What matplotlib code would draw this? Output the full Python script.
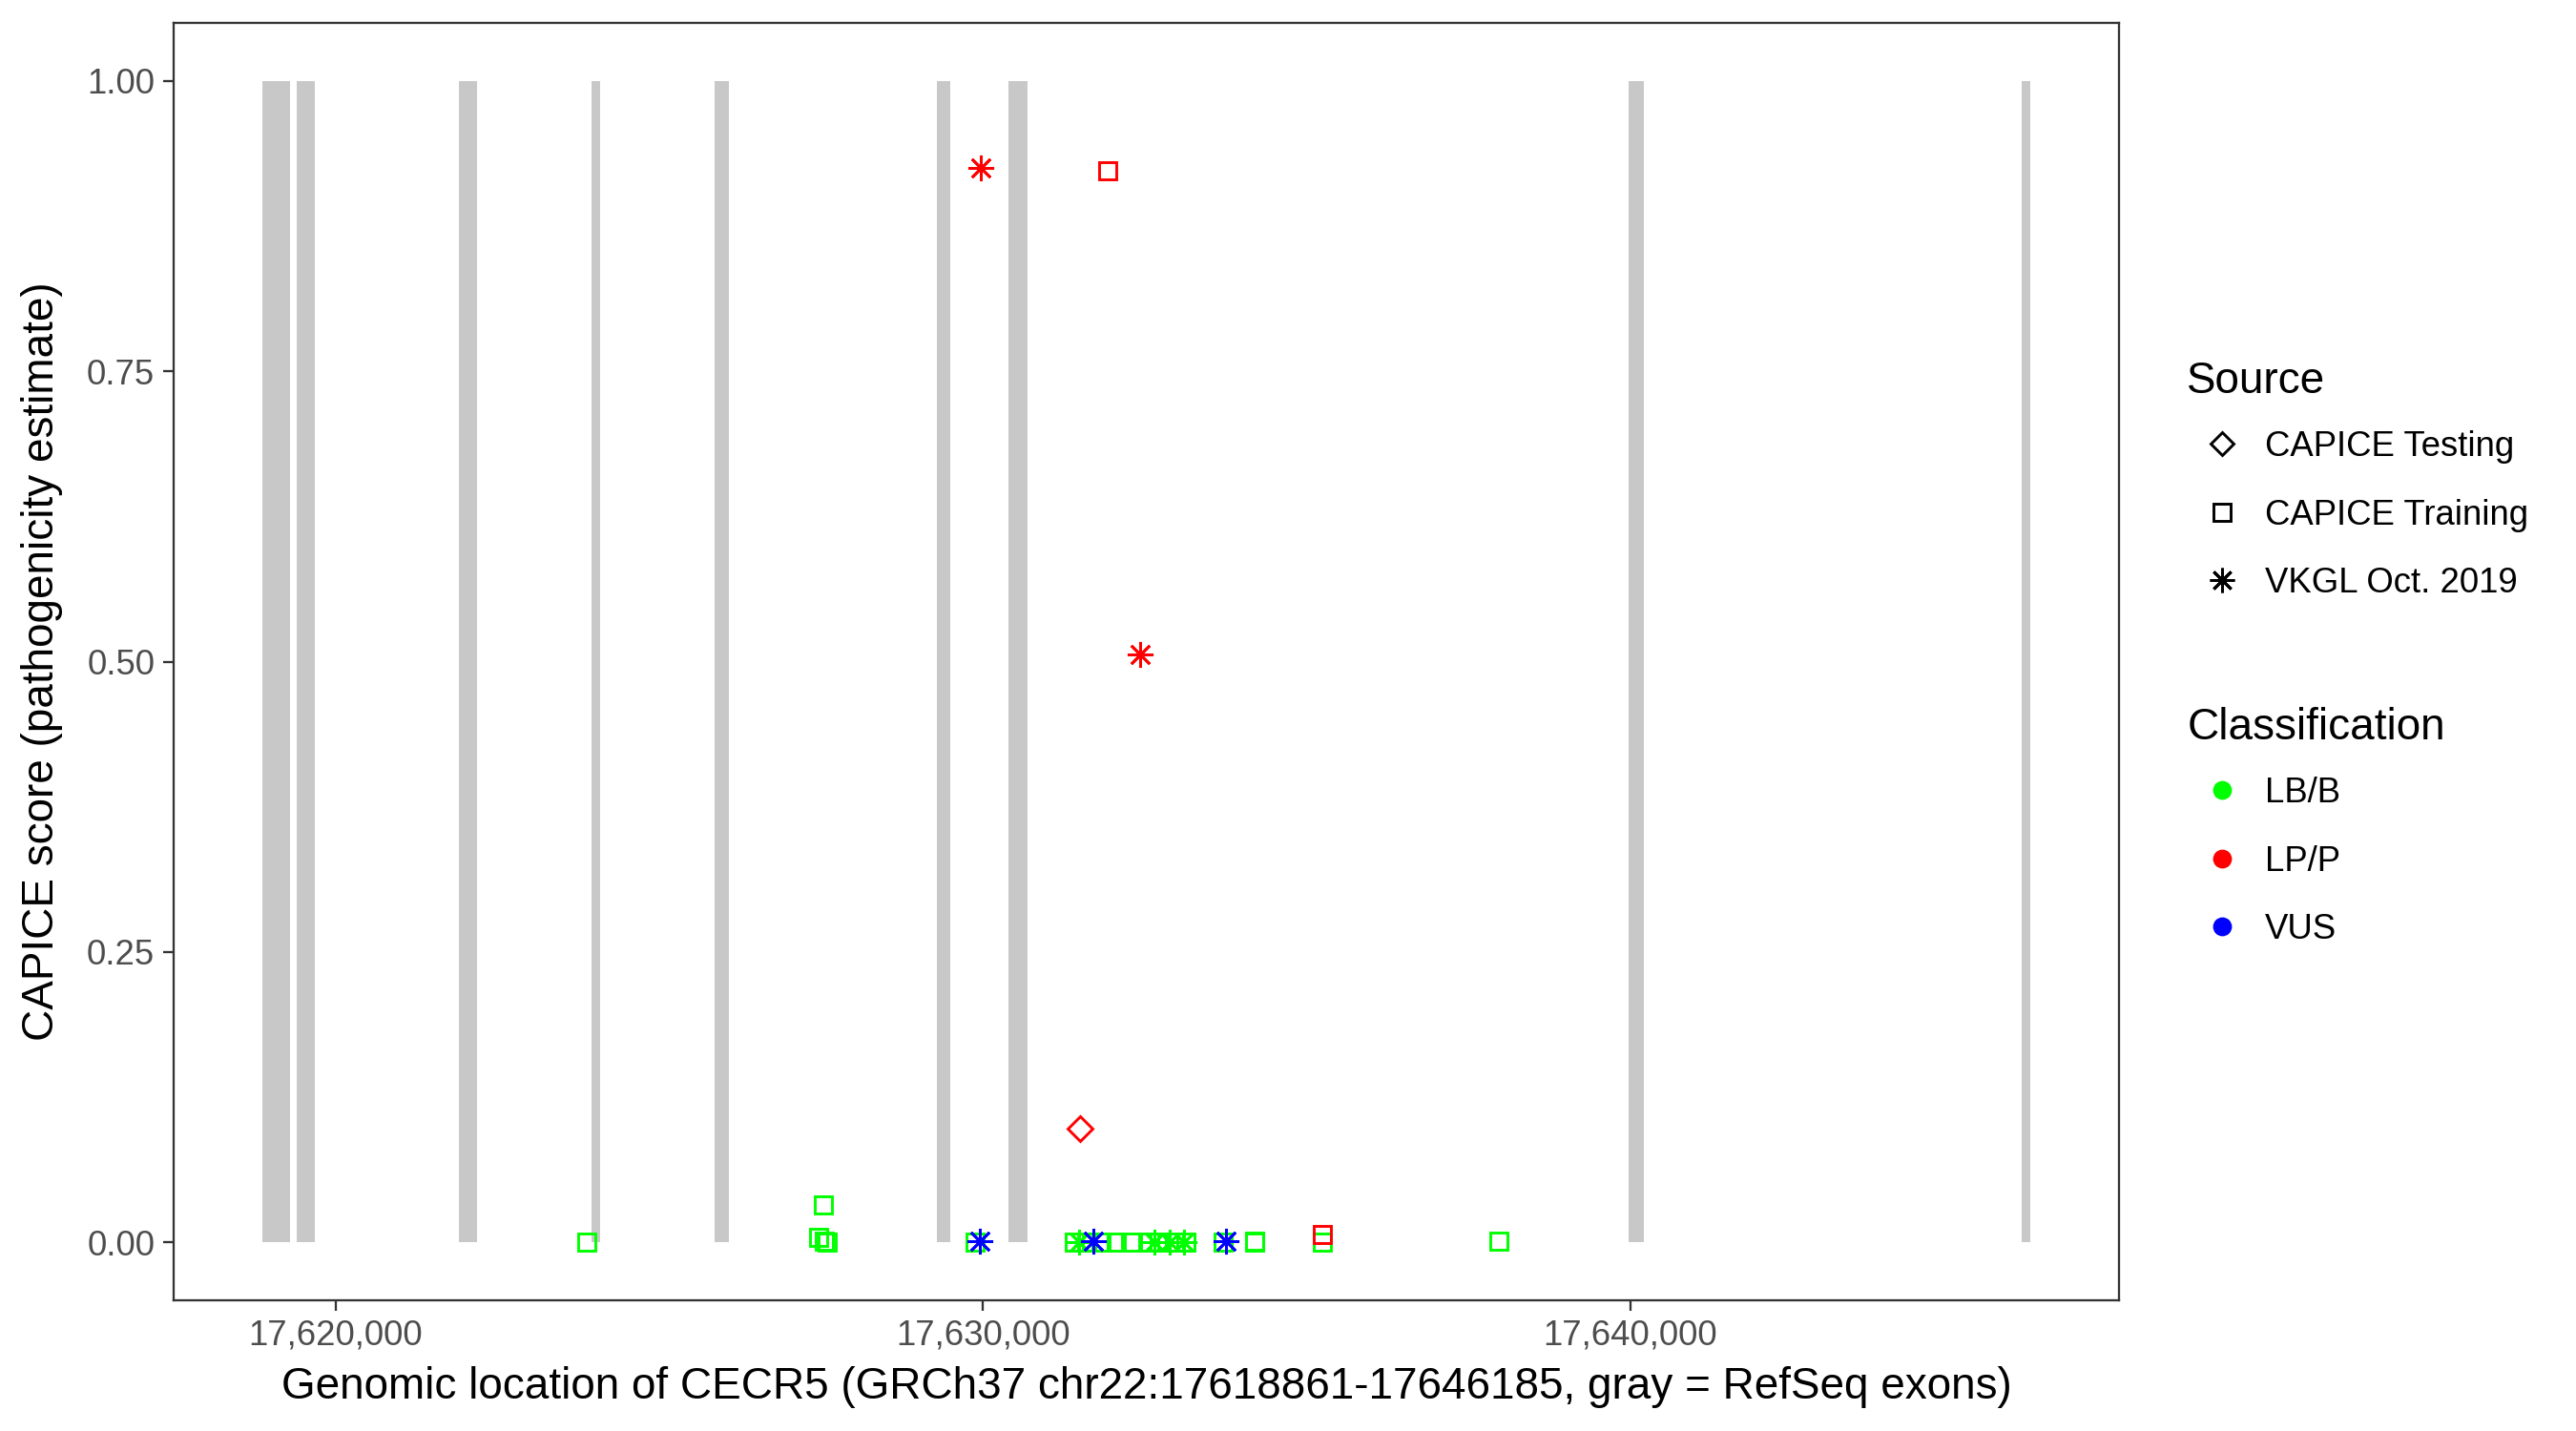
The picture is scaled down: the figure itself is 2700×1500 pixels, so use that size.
import matplotlib.pyplot as plt
from matplotlib.lines import Line2D

plt.rcParams['font.family'] = ['Liberation Sans', 'DejaVu Sans']

# gene region and RefSeq exons (GRCh37 chr22)
gene_start, gene_end = 17618861, 17646185
exon_starts = [17618861, 17619402, 17621903, 17623954, 17625857, 17629293, 17630386, 17639969, 17646046]
exon_ends = [17619289, 17619683, 17622185, 17624078, 17626071, 17629497, 17630690, 17640206, 17646185]

# variants
var_pos = [17623872, 17627528, 17627462, 17627552, 17627589, 17629873, 17631413, 17631602,
           17631825, 17632052, 17632277, 17632576, 17632728, 17632953, 17633141, 17633704,
           17634193, 17634200, 17635244, 17637968,
           17631487, 17632653, 17632878, 17633103,
           17629971, 17631922, 17632429, 17631493, 17635244,
           17629948, 17631700, 17633748]
var_score = [0.000, 0.032, 0.004, 0.001, 0.000, 0.000, 0.000, 0.000,
             0.000, 0.000, 0.000, 0.000, 0.000, 0.000, 0.000, 0.000,
             0.001, 0.000, 0.000, 0.001,
             0.000, 0.000, 0.000, 0.000,
             0.925, 0.923, 0.506, 0.098, 0.007,
             0.001, 0.001, 0.001]
var_source = ['CAPICE Training'] * 20 + ['VKGL Oct. 2019'] * 4 + \
             ['VKGL Oct. 2019', 'CAPICE Training', 'VKGL Oct. 2019', 'CAPICE Testing', 'CAPICE Training'] + \
             ['VKGL Oct. 2019'] * 3
var_class = ['LB/B'] * 24 + ['LP/P'] * 5 + ['VUS'] * 3

sources = ['CAPICE Testing', 'CAPICE Training', 'VKGL Oct. 2019']
classes = ['LB/B', 'LP/P', 'VUS']
class_colors = {'LB/B': '#00FF00', 'LP/P': '#FF0000', 'VUS': '#0000FF'}
source_markers = {'CAPICE Testing': ('D', 8.5, 1.4), 'CAPICE Training': ('s', 9, 1.4),
                  'VKGL Oct. 2019': ((8, 2, 0), 13, 1.3)}

fig = plt.figure(figsize=(18, 10), dpi=150)
ax = fig.add_axes([0.0674, 0.0913, 0.7552, 0.8927])

# exons as gray bars from 0 to 1
ax.bar(exon_starts, [1] * len(exon_starts),
       width=[e - s for s, e in zip(exon_starts, exon_ends)],
       align='edge', bottom=0, color='#C8C8C8', linewidth=0, zorder=1)

for cls in classes:
    for src in sources:
        xs = [p for p, s, c in zip(var_pos, var_source, var_class) if s == src and c == cls]
        ys = [v for v, s, c in zip(var_score, var_source, var_class) if s == src and c == cls]
        if not xs:
            continue
        m, ms, mew = source_markers[src]
        ax.plot(xs, ys, linestyle='none', marker=m, ms=ms, mew=mew,
                mfc='none', mec=class_colors[cls], zorder=3)

pad = 0.05 * (gene_end - gene_start)
ax.set_xlim(gene_start - pad, gene_end + pad)
ax.set_ylim(-0.05, 1.05)
ax.set_xticks([17620000, 17630000, 17640000])
ax.set_xticklabels(['17,620,000', '17,630,000', '17,640,000'])
ax.set_yticks([0, 0.25, 0.5, 0.75, 1.0])
ax.set_yticklabels(['0.00', '0.25', '0.50', '0.75', '1.00'])
ax.tick_params(labelsize=17.5, labelcolor='#4D4D4D', color='#333333', length=5.5, width=1.1, pad=4)
for sp in ax.spines.values():
    sp.set_color('#333333')
    sp.set_linewidth(1.1)

ax.set_xlabel('Genomic location of CECR5 (GRCh37 chr22:17618861-17646185, gray = RefSeq exons)',
              fontsize=22, labelpad=7)
ax.set_ylabel('CAPICE score (pathogenicity estimate)', fontsize=22, labelpad=12)

src_handles = [Line2D([], [], linestyle='none', marker=source_markers[s][0],
                      ms=source_markers[s][1] * 0.95, mew=1.4, mfc='none', mec='black') for s in sources]
cls_handles = [Line2D([], [], linestyle='none', marker='o', ms=8.5, mfc=class_colors[c],
                      mec=class_colors[c]) for c in classes]

leg_kw = dict(loc='upper left', frameon=False, fontsize=17.5, title_fontsize=22,
              alignment='left', labelspacing=1.0, handletextpad=0.25,
              handlelength=2.0, borderaxespad=0, borderpad=0)
leg1 = fig.legend(src_handles, sources, title='Source',
                  bbox_to_anchor=(0.849, 0.748), **leg_kw)
leg2 = fig.legend(cls_handles, classes, title='Classification',
                  bbox_to_anchor=(0.849, 0.506), **leg_kw)
for leg in (leg1, leg2):
    leg._legend_box.sep = 14

fig.savefig('out.png', dpi=150)
